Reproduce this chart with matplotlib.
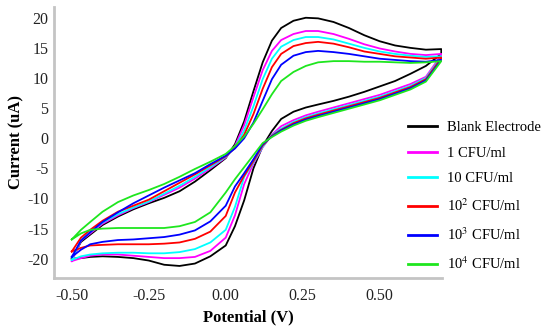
import matplotlib
matplotlib.use("Agg")
import matplotlib.pyplot as plt

# ---------------- data ----------------
potential_fwd = [-0.50, -0.47, -0.44, -0.40, -0.35, -0.30, -0.25, -0.20, -0.15, -0.10,
                 -0.05, 0.00, 0.03, 0.06, 0.09, 0.12, 0.15, 0.18, 0.22, 0.26,
                 0.30, 0.35, 0.40, 0.45, 0.50, 0.55, 0.60, 0.65, 0.70]
potential_rev = potential_fwd[::-1]

labels = ['Blank Electrode', '1 CFU/ml', '10 CFU/ml',
          '10$^{2}$ CFU/ml', '10$^{3}$ CFU/ml', '10$^{4}$ CFU/ml']
colors = ['#000000', '#ff00ff', '#00ffff', '#ff0000', '#0000ff', '#1ee61e']

blank_fwd = [-20.0, -17.2, -16.0, -14.4, -13.0, -11.8, -10.8, -9.9, -8.8, -7.2,
             -5.3, -3.3, -1.0, 2.8, 7.8, 12.6, 16.2, 18.3, 19.5, 20.0,
             19.9, 19.3, 18.3, 17.1, 16.1, 15.4, 15.0, 14.7, 14.8]
blank_rev = [14.0, 12.0, 10.7, 9.5, 8.6, 7.7, 6.9, 6.2, 5.6, 5.1,
             4.4, 3.2, 1.2, -1.3, -5.0, -10.3, -14.6, -17.8, -19.6, -20.8,
             -21.2, -21.0, -20.3, -19.9, -19.7, -19.6, -19.7, -19.9, -20.0]

c1_fwd = [-20.4, -17.0, -15.8, -14.2, -12.8, -11.6, -10.6, -9.4, -8.2, -6.7,
          -5.0, -3.2, -1.3, 2.2, 6.8, 11.3, 14.5, 16.3, 17.3, 17.8,
          17.8, 17.3, 16.5, 15.6, 14.9, 14.4, 14.0, 13.8, 14.0]
c1_rev = [13.8, 10.2, 9.0, 8.1, 7.2, 6.5, 5.8, 5.1, 4.4, 3.8,
          3.0, 2.0, 0.6, -1.5, -4.2, -7.6, -12.8, -16.5, -18.7, -19.7,
          -19.9, -19.9, -19.7, -19.5, -19.3, -19.3, -19.5, -19.9, -20.4]

c10_fwd = [-20.2, -16.9, -15.6, -14.0, -12.6, -11.5, -10.5, -9.2, -7.9, -6.4,
           -4.8, -3.1, -1.5, 1.3, 5.3, 9.8, 13.2, 15.2, 16.3, 16.8,
           16.8, 16.4, 15.7, 15.0, 14.4, 14.0, 13.7, 13.5, 13.6]
c10_rev = [13.5, 10.0, 8.7, 7.8, 6.9, 6.2, 5.5, 4.8, 4.1, 3.5,
           2.7, 1.6, 0.5, -1.4, -4.0, -6.4, -11.4, -15.2, -17.3, -18.4,
           -18.9, -19.1, -19.1, -19.0, -19.0, -19.1, -19.3, -19.6, -20.2]

c100_fwd = [-18.8, -16.5, -15.2, -13.7, -12.2, -11.2, -10.2, -8.8, -7.4, -6.0,
            -4.5, -3.0, -1.6, 0.6, 4.0, 8.2, 11.8, 14.0, 15.3, 15.8,
            16.0, 15.7, 15.1, 14.4, 14.0, 13.6, 13.4, 13.2, 13.4]
c100_rev = [13.3, 9.8, 8.5, 7.6, 6.7, 6.0, 5.3, 4.6, 3.9, 3.3,
            2.5, 1.4, 0.4, -1.2, -3.8, -6.2, -9.0, -12.9, -15.5, -16.7,
            -17.3, -17.5, -17.6, -17.6, -17.6, -17.7, -17.8, -18.2, -18.8]

c1000_fwd = [-19.7, -17.0, -15.6, -13.9, -12.3, -10.8, -9.5, -8.2, -7.0, -5.8,
             -4.3, -2.9, -1.7, 0.0, 2.6, 6.2, 9.8, 12.2, 13.7, 14.3,
             14.5, 14.3, 14.0, 13.6, 13.2, 13.0, 12.8, 12.7, 13.0]
c1000_rev = [13.0, 9.6, 8.3, 7.4, 6.5, 5.8, 5.1, 4.4, 3.7, 3.1,
             2.3, 1.3, 0.3, -1.0, -3.5, -5.8, -8.0, -11.2, -13.8, -15.3,
             -16.0, -16.4, -16.6, -16.8, -16.9, -17.2, -17.6, -18.5, -19.7]

c10000_fwd = [-16.8, -15.2, -13.9, -12.2, -10.6, -9.5, -8.6, -7.6, -6.4, -5.1,
              -3.9, -2.6, -1.3, 0.3, 2.4, 4.8, 7.3, 9.5, 11.0, 12.0,
              12.6, 12.8, 12.8, 12.7, 12.7, 12.6, 12.5, 12.6, 12.8]
c10000_rev = [12.8, 9.4, 8.1, 7.2, 6.3, 5.6, 4.9, 4.2, 3.5, 2.9,
              2.1, 1.1, 0.2, -0.8, -2.8, -4.8, -6.8, -9.0, -12.3, -13.9,
              -14.6, -14.9, -14.9, -14.9, -14.9, -15.0, -15.2, -15.8, -16.8]

forward = [blank_fwd, c1_fwd, c10_fwd, c100_fwd, c1000_fwd, c10000_fwd]
reverse = [blank_rev, c1_rev, c10_rev, c100_rev, c1000_rev, c10000_rev]

x_ticks = [-0.50, -0.25, 0.00, 0.25, 0.50]
x_ticklabels = ['-0.50', '-0.25', '0.00', '0.25', '0.50']
y_ticks = [-20, -15, -10, -5, 0, 5, 10, 15, 20]

# ---------------- plot ----------------
plt.rcParams['font.family'] = ['Liberation Serif', 'DejaVu Serif']
plt.rcParams['mathtext.fontset'] = 'stix'
plt.rcParams['axes.unicode_minus'] = False

fig = plt.figure(figsize=(5.5, 3.29), dpi=100)
ax = fig.add_axes([0.098, 0.155, 0.706, 0.824])

for fwd, rev, col, lab in zip(forward, reverse, colors, labels):
    ax.plot(potential_fwd + potential_rev, fwd + rev, color=col, lw=1.3,
            label=lab, solid_joinstyle='round')

ax.set_xlim(-0.558, 0.703)
ax.set_ylim(-23.2, 21.8)
ax.set_xticks(x_ticks)
ax.set_xticklabels(x_ticklabels)
ax.set_yticks(y_ticks)
ax.tick_params(length=0, labelsize=11.5, colors='#222222')
ax.tick_params(axis='x', pad=7)
ax.tick_params(axis='y', pad=4)

for s in ['top', 'right']:
    ax.spines[s].set_visible(False)
for s in ['left', 'bottom']:
    ax.spines[s].set_color('#c4c4c4')
    ax.spines[s].set_linewidth(2.0)

ax.set_xlabel('Potential (V)', fontsize=12, fontweight='bold', labelpad=4)
ax.set_ylabel('Current (uA)', fontsize=12, fontweight='bold', labelpad=2)

leg = fig.legend(loc='upper left', bbox_to_anchor=(0.742, 0.632),
                 frameon=False, fontsize=10.5, handlelength=1.95,
                 handletextpad=0.75, labelspacing=0.84, borderpad=0,
                 borderaxespad=0)
for h in leg.get_lines():
    h.set_linewidth(2.0)

fig.savefig('out.png', dpi=100)
